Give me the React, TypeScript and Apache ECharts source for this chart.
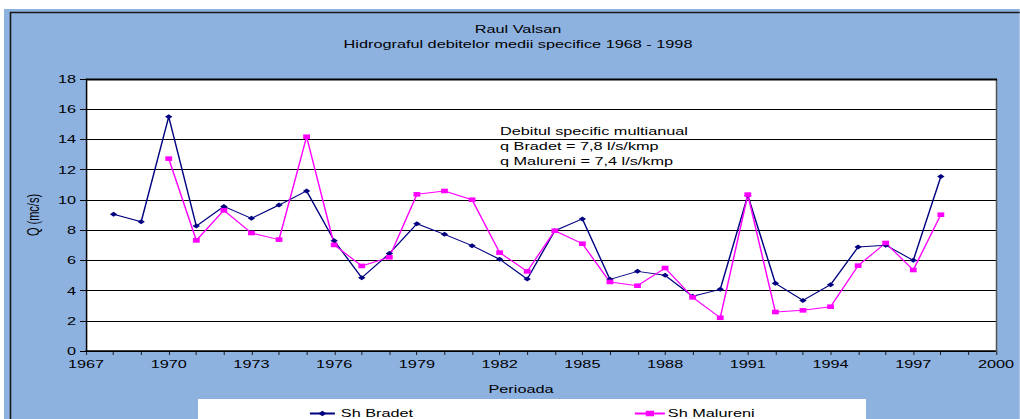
import React, { useEffect, useRef } from "react";
import * as echarts from "echarts";

const years = [1968,1969,1970,1971,1972,1973,1974,1975,1976,1977,1978,1979,1980,1981,1982,1983,1984,1985,1986,1987,1988,1989,1990,1991,1992,1993,1994,1995,1996,1997,1998];
const bradet = [9.05,8.55,15.5,8.27,9.57,8.78,9.66,10.59,7.3,4.85,6.45,8.42,7.72,6.97,6.07,4.76,7.96,8.74,4.74,5.27,5.01,3.62,4.08,10.3,4.48,3.35,4.39,6.88,7.0,6.0,11.54];
const malureni = [null,null,12.73,7.32,9.31,7.81,7.37,14.18,7.02,5.63,6.2,10.37,10.59,10.01,6.51,5.27,7.96,7.1,4.57,4.32,5.49,3.55,2.2,10.35,2.58,2.69,2.93,5.65,7.15,5.36,9.02];
const titleLines = ["Raul Valsan", "Hidrograful debitelor medii specifice 1968 - 1998"];
const noteLines = ["Debitul specific multianual", "q Bradet = 7,8 l/s/kmp", "q Malureni = 7,4 l/s/kmp"];

const FONT = "'Liberation Sans', Arial, sans-serif";
// The reference picture is horizontally stretched; the chart is drawn narrower and stretched back.
const S = 1.48;
const W = 1020;
const H = 419;
const X = (v: number) => v / S;

export default function App() {
  const ref = useRef<HTMLDivElement>(null);
  useEffect(() => {
    document.body.style.margin = "0";
    const chart = echarts.init(ref.current!, undefined, { renderer: "svg" });
    const pairs = (arr: (number | null)[]) => years.map((y, i) => [y, arr[i]]).filter((p) => p[1] !== null);
    const txt = (t: string, x: number, y: number, align: string, z = 10) => ({
      type: "text", x: X(x), y, z,
      style: { text: t, font: `11px ${FONT}`, fill: "#000", align, verticalAlign: "middle" },
    });
    chart.setOption({
      animation: false,
      backgroundColor: "#ffffff",
      textStyle: { fontFamily: FONT },
      graphic: [
        { type: "rect", z: -10, shape: { x: X(4), y: 9, width: X(1016), height: 410 }, style: { fill: "#8EB2E0" } },
        { type: "line", z: -9, shape: { x1: X(10.5), y1: 12, x2: X(10.5), y2: 419 }, style: { stroke: "#1a1a1a", lineWidth: 1.6 / S } },
        { type: "line", z: -9, shape: { x1: X(10), y1: 12.5, x2: X(1020), y2: 12.5 }, style: { stroke: "#1a1a1a", lineWidth: 1.6 } },
        { type: "rect", z: -8, shape: { x: X(86), y: 79, width: X(910), height: 272 }, style: { fill: "#ffffff" } },
        { type: "line", z: 5, shape: { x1: X(996.5), y1: 79, x2: X(996.5), y2: 352 }, style: { stroke: "#555555", lineWidth: 1.5 / S } },
        { type: "line", z: 5, shape: { x1: X(86), y1: 79.5, x2: X(997), y2: 79.5 }, style: { stroke: "#000000", lineWidth: 2 } },
        { type: "rect", z: -8, shape: { x: X(198), y: 399, width: X(668), height: 25 }, style: { fill: "#ffffff" } },
        txt(titleLines[0], 518, 29, "center"),
        txt(titleLines[1], 518, 44, "center"),
        ...noteLines.map((t, i) => txt(t, 500, 131 + i * 15, "left")),
        txt("Perioada", 521, 389, "center"),
      ],
      grid: { left: X(86), top: 79, width: X(910), height: 272, show: false },
      legend: [
        {
          data: ["Sh Bradet"], left: X(301), top: 403, itemWidth: X(25), itemHeight: 7, itemGap: 4,
          textStyle: { fontFamily: FONT, fontSize: 11, color: "#000", padding: [0, 0, 0, -1] },
        },
        {
          data: ["Sh Malureni"], left: X(626), top: 403, itemWidth: X(30), itemHeight: 7, itemGap: 4,
          textStyle: { fontFamily: FONT, fontSize: 11, color: "#000", padding: [0, 0, 0, -3] },
        },
      ],
      xAxis: {
        type: "value", min: 1967, max: 2000, interval: 1,
        axisLine: { show: true, onZero: false, lineStyle: { color: "#000", width: 1.5 } },
        axisTick: { show: true, length: 4, lineStyle: { color: "#000", width: 1 / S } },
        splitLine: { show: false },
        axisLabel: {
          color: "#000", fontSize: 11, fontFamily: FONT, margin: 8,
          formatter: (v: number) => ((v - 1967) % 3 === 0 ? String(v) : ""),
        },
      },
      yAxis: {
        type: "value", min: 0, max: 18, interval: 2,
        name: "Q (mc/s)", nameLocation: "middle", nameGap: 26, nameRotate: 90,
        nameTextStyle: { color: "#000", fontSize: 11, fontFamily: FONT },
        axisLine: { show: true, lineStyle: { color: "#000", width: 1.5 / S } },
        axisTick: { show: true, length: X(6), lineStyle: { color: "#000" } },
        splitLine: { show: true, lineStyle: { color: "#000", width: 1 } },
        axisLabel: { color: "#000", fontSize: 11, fontFamily: FONT, margin: X(10) },
      },
      series: [
        {
          name: "Sh Bradet", type: "line", data: pairs(bradet),
          symbol: "diamond", symbolSize: 5, showAllSymbol: true,
          lineStyle: { color: "#000080", width: 1 }, itemStyle: { color: "#000080" },
        },
        {
          name: "Sh Malureni", type: "line", data: pairs(malureni),
          symbol: "rect", symbolSize: 4.6, showAllSymbol: true,
          lineStyle: { color: "#FF00FF", width: 1 }, itemStyle: { color: "#FF00FF" },
        },
      ],
    });
    return () => chart.dispose();
  }, []);
  return (
    <div style={{ position: "absolute", left: 0, top: 0, width: W, height: H, overflow: "hidden" }}>
      <div
        ref={ref}
        style={{ position: "absolute", left: 0, top: 0, width: W / S, height: H, transform: `scaleX(${S})`, transformOrigin: "0 0" }}
      />
    </div>
  );
}
